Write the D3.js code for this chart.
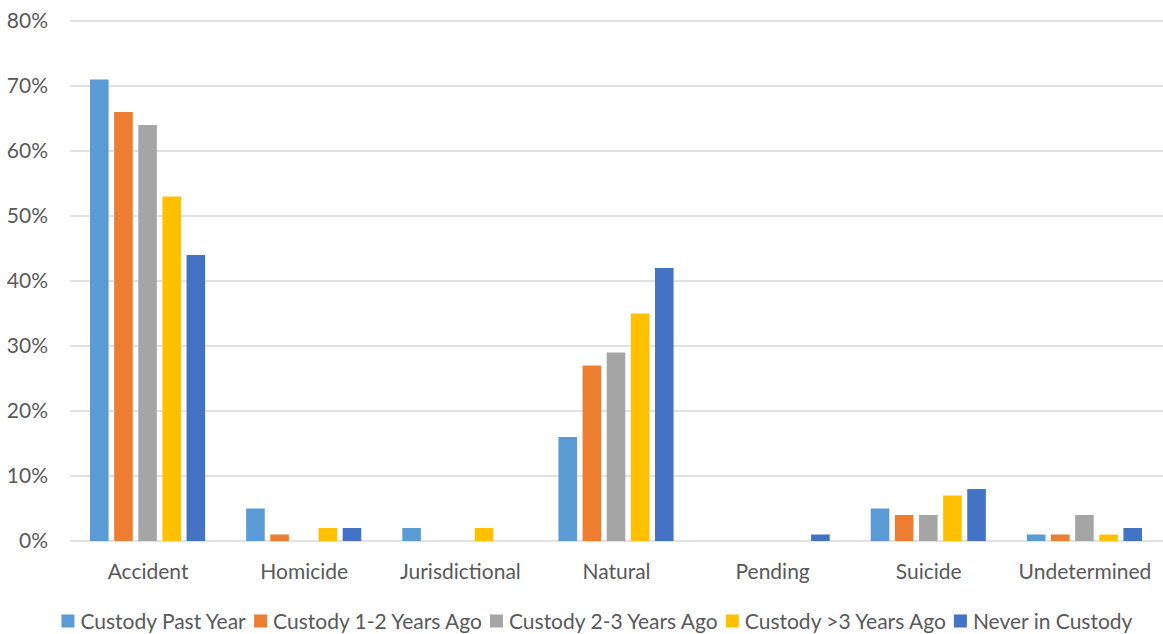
<!DOCTYPE html>
<html>
<head>
<meta charset="utf-8">
<script src="https://cdn.jsdelivr.net/npm/d3@7"></script>
<style>
  html, body { margin: 0; padding: 0; background: #fff; }
  svg { display: block; font-family: Lato, "Open Sans", sans-serif; }
</style>
</head>
<body>
<svg id="chart" width="1163" height="634"></svg>
<script>
// Manner of death by custody history (share of deaths, %)
const categories = ["Accident", "Homicide", "Jurisdictional", "Natural", "Pending", "Suicide", "Undetermined"];
const seriesNames = ["Custody Past Year", "Custody 1-2 Years Ago", "Custody 2-3 Years Ago", "Custody >3 Years Ago", "Never in Custody"];
const custodyPastYear   = [71, 5, 2, 16, 0, 5, 1];
const custody1to2Years  = [66, 1, 0, 27, 0, 4, 1];
const custody2to3Years  = [64, 0, 0, 29, 0, 4, 4];
const custodyOver3Years = [53, 2, 2, 35, 0, 7, 1];
const neverInCustody    = [44, 2, 0, 42, 1, 8, 2];
const yTicks = [0, 10, 20, 30, 40, 50, 60, 70, 80];
const colors = ["#5B9BD5", "#ED7D31", "#A5A5A5", "#FFC000", "#4472C4"];

const seriesValues = [custodyPastYear, custody1to2Years, custody2to3Years, custodyOver3Years, neverInCustody];

const svg = d3.select("#chart");
const margin = { left: 70, right: 0, top: 21, bottom: 93 };
const W = 1163, H = 634;
const fontSize = 21;
const textColor = "#595959";

const x = d3.scaleBand().domain(categories).range([margin.left, W - margin.right]).paddingInner(0).paddingOuter(0);
const y = d3.scaleLinear().domain([0, 80]).range([H - margin.bottom, margin.top]);

// inner scale for series inside each category band
const xs = d3.scaleBand().domain(d3.range(seriesNames.length))
  .range([x.bandwidth() * 20 / 156, x.bandwidth() * (1 - 21 / 156)])
  .paddingInner(0.23).paddingOuter(0);

// gridlines
const grid = svg.append("g").attr("class", "grid");
grid.selectAll("line").data(yTicks).join("line")
  .attr("x1", margin.left).attr("x2", W - margin.right)
  .attr("y1", d => y(d)).attr("y2", d => y(d))
  .attr("stroke", "#d9d9d9").attr("stroke-width", 1.5);

// y axis labels
const yAxis = d3.axisLeft(y).tickValues(yTicks).tickFormat(d => d + "%").tickSize(0).tickPadding(22);
const ya = svg.append("g").attr("transform", `translate(${margin.left},0)`).call(yAxis);
ya.select(".domain").remove();
ya.selectAll("text").attr("font-size", fontSize).attr("fill", textColor).attr("font-family", "Lato, sans-serif");

// bars
const groups = svg.append("g").selectAll("g").data(categories).join("g")
  .attr("transform", d => `translate(${x(d)},0)`);
groups.selectAll("rect")
  .data((c, ci) => seriesValues.map((vals, si) => ({ si, v: vals[ci] })))
  .join("rect")
  .attr("x", d => xs(d.si))
  .attr("width", xs.bandwidth())
  .attr("y", d => y(d.v))
  .attr("height", d => y(0) - y(d.v))
  .attr("fill", d => colors[d.si]);

// x axis labels
const xAxis = d3.axisBottom(x).tickSize(0).tickPadding(23);
const xa = svg.append("g").attr("transform", `translate(0,${y(0)})`).call(xAxis);
xa.select(".domain").remove();
xa.selectAll("text").attr("font-size", fontSize).attr("fill", textColor).attr("font-family", "Lato, sans-serif");

// legend
const legend = svg.append("g").attr("class", "legend");
const sw = 13, swGap = 6, itemGap = 8, legendY = 622;
const items = legend.selectAll("g").data(seriesNames).join("g");
items.append("rect").attr("width", sw).attr("height", sw).attr("y", -sw / 2 - 1)
  .attr("fill", (d, i) => colors[i]);
items.append("text").attr("x", sw + swGap).attr("dy", "0.35em")
  .attr("font-size", fontSize).attr("fill", textColor).text(d => d);
let widths = [];
items.each(function () { widths.push(this.getBBox().width); });
const total = d3.sum(widths) + itemGap * (widths.length - 1);
let cx = 597 - total / 2;
items.attr("transform", (d, i) => {
  const t = `translate(${cx},${legendY})`;
  cx += widths[i] + itemGap;
  return t;
});
</script>
</body>
</html>
